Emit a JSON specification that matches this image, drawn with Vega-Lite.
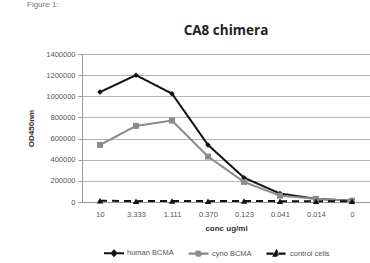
{
  "$schema": "https://vega.github.io/schema/vega-lite/v6.json",
  "background": "white",
  "padding": {"left": 27, "top": 0, "right": 0, "bottom": 0},
  "title": {"text": "Figure 1:", "anchor": "start", "fontSize": 8, "fontWeight": "normal", "color": "#777", "font": "Liberation Sans", "offset": 12, "dy": -3},
  "config": {
    "font": "Liberation Sans",
    "view": {"stroke": null},
    "axis": {"labelFont": "Liberation Sans", "labelFontSize": 7.5, "labelColor": "#555", "titleFont": "Liberation Sans", "titleFontSize": 8, "titleColor": "#333", "domainColor": "#999", "tickColor": "#999", "gridColor": "#b4b4b4"}
  },
  "vconcat": [
    {
      "width": 288,
      "height": 148,
      "title": {"text": "CA8 chimera", "fontSize": 13.5, "fontWeight": "bold", "font": "Open Sans", "color": "#222", "offset": 13, "anchor": "middle"},
      "data": {"values": [
        {"conc": "10", "series": "human BCMA", "od": 1040000},
        {"conc": "3.333", "series": "human BCMA", "od": 1200000},
        {"conc": "1.111", "series": "human BCMA", "od": 1025000},
        {"conc": "0.370", "series": "human BCMA", "od": 540000},
        {"conc": "0.123", "series": "human BCMA", "od": 230000},
        {"conc": "0.041", "series": "human BCMA", "od": 80000},
        {"conc": "0.014", "series": "human BCMA", "od": 30000},
        {"conc": "0", "series": "human BCMA", "od": 12000},
        {"conc": "10", "series": "cyno BCMA", "od": 540000},
        {"conc": "3.333", "series": "cyno BCMA", "od": 720000},
        {"conc": "1.111", "series": "cyno BCMA", "od": 770000},
        {"conc": "0.370", "series": "cyno BCMA", "od": 430000},
        {"conc": "0.123", "series": "cyno BCMA", "od": 190000},
        {"conc": "0.041", "series": "cyno BCMA", "od": 60000},
        {"conc": "0.014", "series": "cyno BCMA", "od": 30000},
        {"conc": "0", "series": "cyno BCMA", "od": 12000},
        {"conc": "10", "series": "control cells", "od": 12000},
        {"conc": "3.333", "series": "control cells", "od": 8000},
        {"conc": "1.111", "series": "control cells", "od": 10000},
        {"conc": "0.370", "series": "control cells", "od": 8000},
        {"conc": "0.123", "series": "control cells", "od": 10000},
        {"conc": "0.041", "series": "control cells", "od": 8000},
        {"conc": "0.014", "series": "control cells", "od": 8000},
        {"conc": "0", "series": "control cells", "od": 8000}
      ]},
      "encoding": {
        "x": {"field": "conc", "type": "ordinal", "sort": null, "title": "conc ug/ml",
              "axis": {"labelAngle": 0, "ticks": false, "titlePadding": 7, "labelPadding": 8, "titleFontWeight": "bold"}},
        "y": {"field": "od", "type": "quantitative", "title": "OD450nm",
              "scale": {"domain": [0, 1400000]},
              "axis": {"values": [0, 200000, 400000, 600000, 800000, 1000000, 1200000, 1400000], "format": "d", "tickSize": 4, "labelPadding": 3, "titleX": -47, "titleFontWeight": "bold"}},
        "color": {"field": "series", "type": "nominal",
                  "scale": {"domain": ["human BCMA", "cyno BCMA", "control cells"], "range": ["#111111", "#8a8a8a", "#111111"]},
                  "legend": {"title": null, "orient": "none", "legendX": 21, "legendY": 188, "direction": "horizontal", "labelFontSize": 7.5, "labelColor": "#555", "symbolSize": 400, "symbolType": "M-1,0H1M-0.22,0L0,-0.25L0.22,0L0,0.25Z", "symbolStrokeWidth": 2, "labelOffset": 2, "columnPadding": 10,
                    "encode": {"symbols": {"update": {
                      "shape": {"signal": "datum.value === 'human BCMA' ? 'M-1,0H1M-0.22,0L0,-0.25L0.22,0L0,0.25Z' : datum.value === 'cyno BCMA' ? 'M-1,0H1M-0.2,-0.2H0.2V0.2H-0.2Z' : 'M-1,0H1M-0.25,0.2L0,-0.25L0.25,0.2Z'"},
                      "stroke": {"scale": "color", "field": "value"},
                      "fill": {"scale": "color", "field": "value"},
                      "strokeWidth": {"value": 2},
                      "opacity": {"value": 1},
                      "strokeDash": {"signal": "datum.value === 'control cells' ? [4, 3] : [1, 0]"}
                    }}}}}
      },
      "layer": [
        {
          "mark": {"type": "line", "strokeWidth": 2},
          "encoding": {
            "strokeDash": {"field": "series", "type": "nominal",
                           "scale": {"domain": ["human BCMA", "cyno BCMA", "control cells"], "range": [[1, 0], [1, 0], [7, 5]]},
                           "legend": null},
            "strokeWidth": {"field": "series", "type": "nominal",
                           "scale": {"domain": ["human BCMA", "cyno BCMA", "control cells"], "range": [2, 2.2, 2.5]},
                           "legend": null}
          }
        },
        {
          "transform": [{"filter": "datum.series === 'human BCMA'"}],
          "mark": {"type": "point", "filled": true, "opacity": 1, "shape": "diamond", "size": 30}
        },
        {
          "transform": [{"filter": "datum.series === 'cyno BCMA'"}],
          "mark": {"type": "point", "filled": true, "opacity": 1, "shape": "square", "size": 36}
        },
        {
          "transform": [{"filter": "datum.series === 'control cells'"}],
          "mark": {"type": "point", "filled": true, "opacity": 1, "shape": "triangle-up", "size": 40}
        }
      ]
    }
  ]
}
